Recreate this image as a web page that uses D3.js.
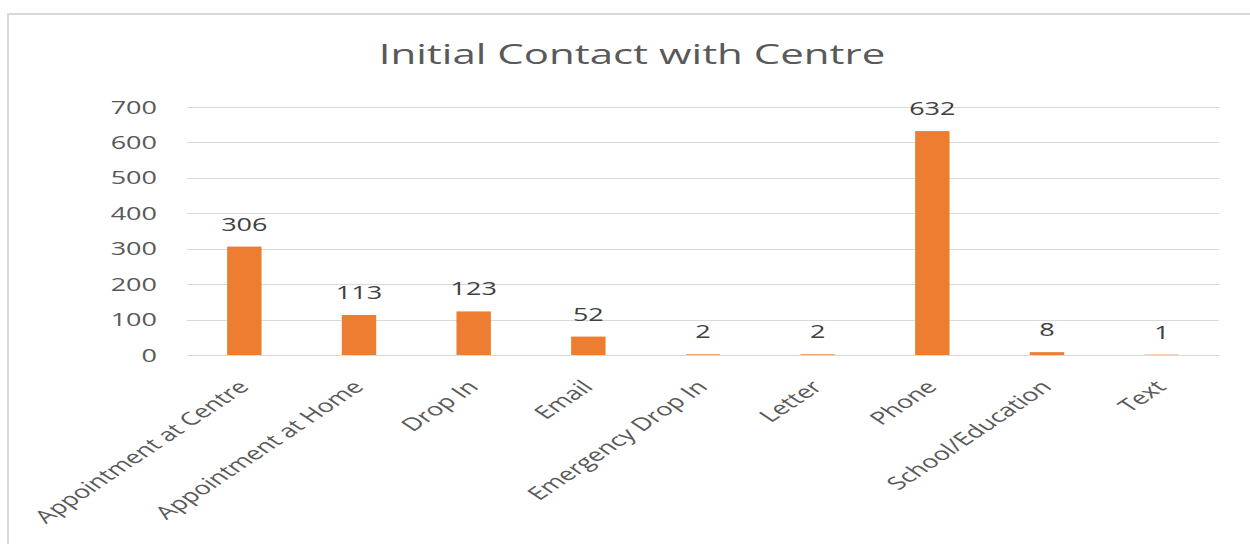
<!DOCTYPE html>
<html>
<head>
<meta charset="utf-8">
<title>Initial Contact with Centre</title>
<style>
    body { margin: 0; background: #fff; font-family: "Open Sans", sans-serif; }
    .frame { fill: none; stroke: #d9d9d9; stroke-width: 2px; }
    .grid line { stroke: #d9d9d9; stroke-width: 1px; }
    .axis text { fill: #595959; font-size: 18px; font-family: "Open Sans", sans-serif; }
    .title { fill: #595959; font-size: 28px; text-anchor: middle; }
    .bar { fill: #ed7d31; }
    .label { fill: #404040; font-size: 18px; text-anchor: middle; }
</style>
<script src="https://d3js.org/d3.v7.min.js"></script>
</head>
<body>
<script>
const categories = ["Appointment at Centre", "Appointment at Home", "Drop In", "Email",
    "Emergency Drop In", "Letter", "Phone", "School/Education", "Text"];
const counts = [306, 113, 123, 52, 2, 2, 632, 8, 1];
const yTicks = [0, 100, 200, 300, 400, 500, 600, 700];

const width = 1250, height = 544;
const margin = { left: 187, right: 31, top: 107, bottom: 189 };
// the source screenshot is stretched sideways, so all text gets the same stretch
const sx = 1.5;

const svg = d3.select("body").append("svg")
    .attr("width", width)
    .attr("height", height);

// chart frame (runs off the right and bottom edge like the screenshot)
svg.append("rect").attr("class", "frame")
    .attr("x", 8).attr("y", 14)
    .attr("width", 1260).attr("height", 560);

svg.append("text").attr("class", "title")
    .attr("transform", `translate(632,64) scale(${sx},1)`)
    .text("Initial Contact with Centre");

const x = d3.scaleBand()
    .domain(categories)
    .range([margin.left, width - margin.right])
    .paddingInner(0.7)
    .paddingOuter(0.35);

const y = d3.scaleLinear()
    .domain([0, 700])
    .range([height - margin.bottom, margin.top]);

// gridlines
svg.append("g").attr("class", "grid")
    .selectAll("line")
    .data(yTicks)
    .join("line")
    .attr("x1", margin.left).attr("x2", width - margin.right)
    .attr("y1", d => Math.round(y(d)) + 0.5).attr("y2", d => Math.round(y(d)) + 0.5);

// y axis
const yAxis = svg.append("g").attr("class", "axis")
    .attr("transform", `translate(${margin.left},0)`)
    .call(d3.axisLeft(y).tickValues(yTicks).tickSize(0));
yAxis.select(".domain").remove();
yAxis.selectAll(".tick text")
    .attr("x", null)
    .attr("dy", "0.34em")
    .attr("transform", `translate(-30,0) scale(${sx},1)`);

// bars
svg.selectAll("rect.bar")
    .data(counts)
    .join("rect")
    .attr("class", "bar")
    .attr("x", (d, i) => x(categories[i]))
    .attr("width", x.bandwidth())
    .attr("y", d => y(d))
    .attr("height", d => y(0) - y(d));

// data labels
svg.selectAll("text.label")
    .data(counts)
    .join("text")
    .attr("class", "label")
    .attr("transform", (d, i) =>
        `translate(${x(categories[i]) + x.bandwidth() / 2},${y(d) - 16}) scale(${sx},1)`)
    .text(d => d);

// x axis labels, rotated
const xAxis = svg.append("g").attr("class", "axis")
    .attr("transform", `translate(0,${height - margin.bottom})`)
    .call(d3.axisBottom(x).tickSize(0).tickPadding(0));
xAxis.select(".domain").remove();
xAxis.selectAll(".tick text")
    .attr("text-anchor", "end")
    .attr("y", null)
    .attr("dy", null)
    .attr("transform", `translate(6,33) scale(${sx},1) rotate(-45)`);
</script>
</body>
</html>
